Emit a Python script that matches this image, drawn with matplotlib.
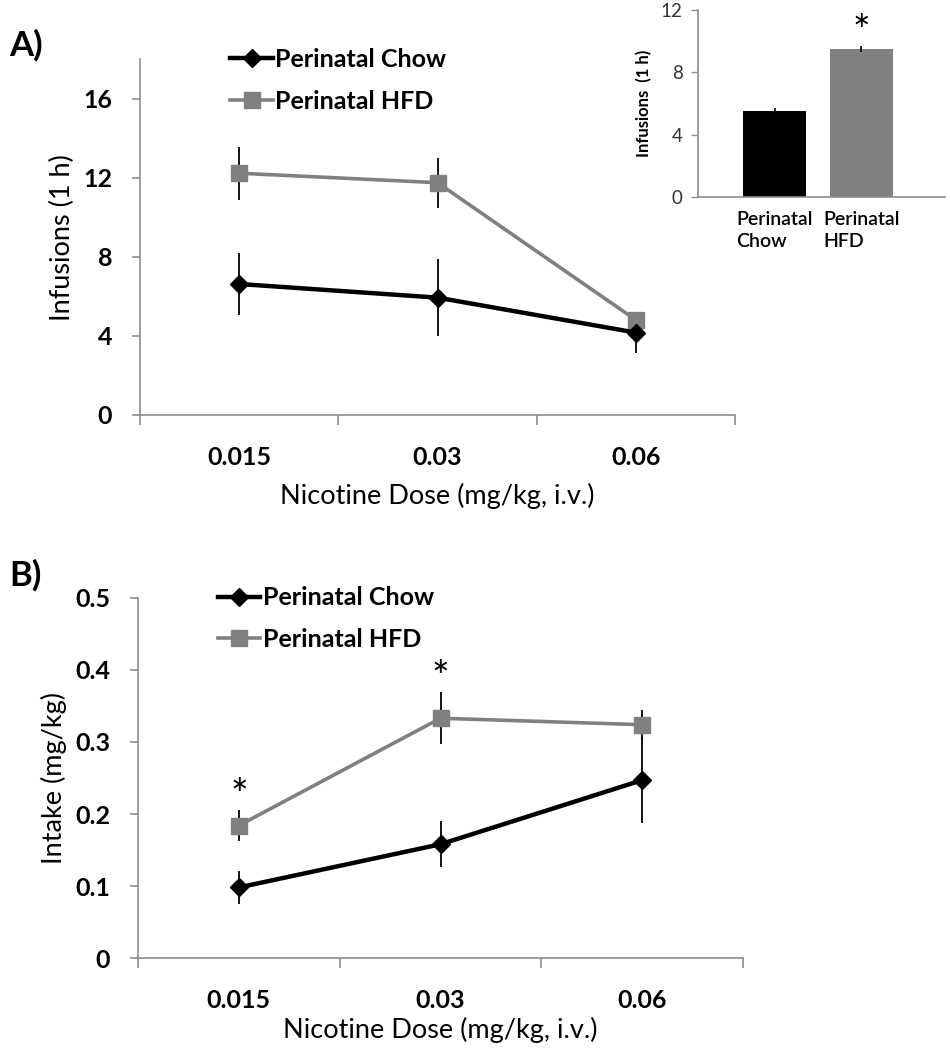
import numpy as np
import matplotlib
matplotlib.use("Agg")
import matplotlib.pyplot as plt

plt.rcParams['font.family'] = ['Lato', 'DejaVu Sans']

# data
doses = ['0.015', '0.03', '0.06']
groups = ['Perinatal Chow', 'Perinatal HFD']

# A) infusions per 1 h session
inf_chow = [6.63, 5.94, 4.17]
inf_chow_err = [1.55, 1.94, 1.05]
inf_hfd = [12.24, 11.76, 4.81]
inf_hfd_err = [1.35, 1.27, 0.42]

# inset: mean infusions across doses
bar_means = [5.53, 9.50]
bar_err = [0.17, 0.20]
bar_labels = ['Perinatal\nChow', 'Perinatal\nHFD']

# B) nicotine intake (mg/kg)
intake_chow = [0.098, 0.158, 0.247]
intake_chow_err = [0.023, 0.032, 0.060]
intake_hfd = [0.184, 0.333, 0.324]
intake_hfd_err = [0.021, 0.036, 0.020]
intake_sig = [0, 1]   # doses marked with *

AX_GRAY = '#8c8c8c'
HFD_GRAY = '#808080'


def style_axes(ax):
    for s in ['top', 'right']:
        ax.spines[s].set_visible(False)
    for s in ['left', 'bottom']:
        ax.spines[s].set_color(AX_GRAY)
        ax.spines[s].set_linewidth(1.2)
    ax.tick_params(axis='both', which='both', color=AX_GRAY, direction='out')


def dose_plot(ax, chow, chow_err, hfd, hfd_err, leg_x, xlab_pad):
    x = np.arange(len(doses)) + 0.5
    # error bars first, lines + markers on top (legend without bars)
    ax.errorbar(x, chow, yerr=chow_err, fmt='none', ecolor='black',
                elinewidth=1.3, capsize=0, zorder=2)
    ax.errorbar(x, hfd, yerr=hfd_err, fmt='none', ecolor='black',
                elinewidth=1.3, capsize=0, zorder=2)
    ax.plot(x, hfd, color=HFD_GRAY, lw=2.6, marker='s', ms=11, zorder=3,
            label=groups[1])
    ax.plot(x, chow, color='black', lw=3.2, marker='D', ms=9, zorder=4,
            label=groups[0])
    ax.set_xlim(0, len(doses))
    ax.set_xticks(x)
    ax.set_xticklabels(doses, fontsize=18, fontweight='bold')
    ax.set_xticks(np.arange(len(doses) + 1), minor=True)
    ax.tick_params(axis='x', which='major', length=0, pad=22)
    ax.tick_params(axis='x', which='minor', length=7, width=1.2)
    ax.tick_params(axis='y', length=6, width=1.2, pad=14)
    ax.set_xlabel('Nicotine Dose (mg/kg, i.v.)', fontsize=19.5, labelpad=xlab_pad)
    style_axes(ax)
    handles, labels = ax.get_legend_handles_labels()
    ax.legend(handles[::-1], labels[::-1], loc='upper left',
              bbox_to_anchor=(leg_x, 1.06), frameon=False,
              prop={'size': 18, 'weight': 'bold'}, handlelength=1.7,
              handletextpad=0.1, labelspacing=0.75, borderaxespad=0)
    return x


fig = plt.figure(figsize=(9.5, 10.5), dpi=100)

# panel A
axA = fig.add_axes([0.1474, 0.6048, 0.6263, 0.3386])
dose_plot(axA, inf_chow, inf_chow_err, inf_hfd, inf_hfd_err, 0.135, 10)
axA.set_ylim(0, 18)
axA.set_yticks([0, 4, 8, 12, 16])
axA.set_yticklabels(['0', '4', '8', '12', '16'], fontsize=18, fontweight='bold')
axA.set_ylabel('Infusions (1 h)', fontsize=19.5, labelpad=6)
fig.text(0.01, 0.957, 'A)', fontsize=25, fontweight='bold', va='center')

# inset bar chart
axI = fig.add_axes([0.7347, 0.8121, 0.26, 0.1784])
xb = np.arange(len(bar_means))
axI.bar(xb, bar_means, width=0.72, color=['black', HFD_GRAY],
        yerr=bar_err, error_kw={'elinewidth': 1.2, 'capsize': 0, 'ecolor': 'black'})
axI.set_xlim(-0.88, 1.96)
axI.set_ylim(0, 12)
axI.set_yticks([0, 4, 8, 12])
axI.set_yticklabels(['0', '4', '8', '12'], fontsize=13.5, color='#333333')
axI.set_xticks(xb)
axI.set_xticklabels(bar_labels, fontsize=14, fontweight='semibold',
                    multialignment='left', linespacing=1.35)
axI.tick_params(axis='x', length=0, pad=10)
axI.tick_params(axis='y', length=5, width=1, pad=6)
axI.set_ylabel('Infusions  (1 h)', fontsize=12, fontweight='bold', labelpad=6)
style_axes(axI)
axI.text(xb[1], bar_means[1] + 1.05, '*', fontsize=30, ha='center', va='center')

# panel B
axB = fig.add_axes([0.1453, 0.0876, 0.6368, 0.3429])
xB = dose_plot(axB, intake_chow, intake_chow_err, intake_hfd, intake_hfd_err,
               0.115, 4)
axB.set_ylim(0, 0.5)
axB.set_yticks([0, 0.1, 0.2, 0.3, 0.4, 0.5])
axB.set_yticklabels(['0', '0.1', '0.2', '0.3', '0.4', '0.5'], fontsize=18,
                    fontweight='bold')
axB.set_ylabel('Intake (mg/kg)', fontsize=19.5, labelpad=6)
for i in intake_sig:
    axB.text(xB[i], intake_hfd[i] + intake_hfd_err[i] + 0.018, '*', fontsize=30,
             ha='center', va='center')
fig.text(0.01, 0.452, 'B)', fontsize=25, fontweight='bold', va='center')

fig.savefig('out.png', dpi=100, facecolor='white')
